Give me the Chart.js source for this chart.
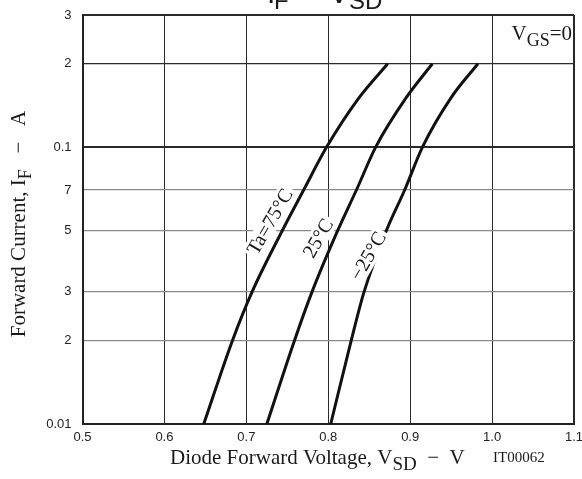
<!DOCTYPE html>
<html><head><meta charset="utf-8">
<script src="https://cdn.jsdelivr.net/npm/chart.js@4.4.1/dist/chart.umd.min.js"></script>
<style>html,body{margin:0;padding:0;background:#fff}#wrap{width:582px;height:479px;position:relative}canvas{display:block}</style>
</head><body><div id="wrap"><canvas id="c" width="582" height="479" style="width:582px;height:479px"></canvas></div>
<script>
// ---- data ----
const xTicks = [0.5, 0.6, 0.7, 0.8, 0.9, 1.0, 1.1];
const yTicks = [0.01, 0.02, 0.03, 0.05, 0.07, 0.1, 0.2, 0.3];
const yTickLabels = ['0.01', '2', '3', '5', '7', '0.1', '2', '3'];
const currentIF = [0.01, 0.02, 0.03, 0.05, 0.07, 0.1, 0.15, 0.2];
const vsdTa75 = [0.648, 0.683, 0.707, 0.744, 0.770, 0.798, 0.837, 0.8726];
const vsdTa25 = [0.725, 0.7587, 0.7802, 0.8116, 0.8344, 0.8579, 0.8945, 0.9271];
const vsdTaM25 = [0.803, 0.828, 0.8437, 0.871, 0.8933, 0.915, 0.9494, 0.9827];
const curveLabels = ['Ta=75°C', '25°C', '\u221225°C'];
const labelAnchorsX = [0.7287, 0.7876, 0.8485];
const labelAnchorsY = [0.0538, 0.0469, 0.0404];

const SERIF = '"Liberation Serif", "Times New Roman", serif';
const SANS = '"Liberation Sans", Arial, sans-serif';

function pts(xs, ys) { return xs.map((x, i) => ({ x: x, y: ys[i] })); }

function richWidth(ctx, parts, size, subScale) {
  let w = 0;
  for (const p of parts) {
    ctx.font = (p.sub ? Math.round(size * subScale) : size) + 'px ' + (p.font || SERIF);
    w += ctx.measureText(p.t).width;
  }
  return w;
}
function drawRich(ctx, parts, x, y, size, align, subScale, subDrop) {
  subScale = subScale || 0.82;
  subDrop = subDrop == null ? 0.3 : subDrop;
  const w = richWidth(ctx, parts, size, subScale);
  let cx = align === 'center' ? x - w / 2 : (align === 'right' ? x - w : x);
  ctx.textBaseline = 'alphabetic';
  ctx.textAlign = 'left';
  for (const p of parts) {
    const s = p.sub ? Math.round(size * subScale) : size;
    ctx.font = s + 'px ' + (p.font || SERIF);
    ctx.fillText(p.t, cx, y + (p.sub ? size * subDrop : 0));
    cx += ctx.measureText(p.t).width;
  }
}

const textPlugin = {
  id: 'texts',
  afterDatasetsDraw(chart) {
    const ctx = chart.ctx;
    const xs = chart.scales.x, ys = chart.scales.y;
    ctx.save();
    ctx.fillStyle = '#1a1a1a';
    curveLabels.forEach((t, i) => {
      const px = xs.getPixelForValue(labelAnchorsX[i]);
      const py = ys.getPixelForValue(labelAnchorsY[i]);
      ctx.save();
      ctx.translate(px, py);
      ctx.rotate(-60 * Math.PI / 180);
      ctx.font = '20px ' + SERIF;
      const w = ctx.measureText(t).width;
      ctx.fillStyle = '#fff';
      ctx.fillRect(-w / 2 - 3, -10, w + 6, 20);
      ctx.fillStyle = '#1a1a1a';
      ctx.textAlign = 'center';
      ctx.textBaseline = 'middle';
      ctx.fillText(t, 0, 1);
      ctx.restore();
    });
    drawRich(ctx, [{ t: 'V' }, { t: 'GS', sub: true }, { t: '=0' }], 572, 40, 21, 'right', 0.88, 0.28);
    ctx.restore();
  },
  afterDraw(chart) {
    const ctx = chart.ctx;
    ctx.save();
    ctx.fillStyle = '#1a1a1a';
    drawRich(ctx, [{ t: 'Diode Forward Voltage, V' }, { t: 'SD', sub: true }, { t: '  \u2212  V' }], 170, 464, 21, 'left', 0.9, 0.28);
    ctx.font = '15px ' + SERIF;
    ctx.textAlign = 'left';
    ctx.fillText('IT00062', 493, 462);
    ctx.save();
    ctx.translate(25, 224);
    ctx.rotate(-Math.PI / 2);
    drawRich(ctx, [{ t: 'Forward Current, I' }, { t: 'F', sub: true }, { t: '   \u2212   A' }], 0, 0, 21, 'center', 0.85, 0.3);
    ctx.restore();
    ctx.font = '30px ' + SANS;
    ctx.fillText('I', 267, 3);
    ctx.font = '24px ' + SANS;
    ctx.fillText('F', 274, 9);
    ctx.font = '30px ' + SANS;
    ctx.fillText('\u2212', 298, 3);
    ctx.fillText('V', 329, 3);
    ctx.font = '24px ' + SANS;
    ctx.fillText('SD', 349, 9);
    ctx.restore();
  }
};

const lineStyle = { borderColor: '#111', borderWidth: 3, pointRadius: 0, showLine: true, fill: false, cubicInterpolationMode: 'monotone' };

new Chart(document.getElementById('c'), {
  type: 'scatter',
  data: {
    datasets: [
      Object.assign({ label: curveLabels[0], data: pts(vsdTa75, currentIF) }, lineStyle),
      Object.assign({ label: curveLabels[1], data: pts(vsdTa25, currentIF) }, lineStyle),
      Object.assign({ label: curveLabels[2], data: pts(vsdTaM25, currentIF) }, lineStyle)
    ]
  },
  options: {
    responsive: false,
    maintainAspectRatio: false,
    animation: false,
    devicePixelRatio: 1,
    layout: { padding: { top: 15, right: 8, left: 0, bottom: 0 } },
    plugins: { legend: { display: false }, tooltip: { enabled: false }, title: { display: false } },
    scales: {
      x: {
        type: 'linear', min: 0.5, max: 1.1,
        afterBuildTicks(s) { s.ticks = xTicks.map(v => ({ value: v })); },
        afterFit(s) { s.height = 55; s.paddingLeft = 0; s.paddingRight = 0; },
        ticks: { padding: 6, color: '#222', font: { family: SANS, size: 13 }, callback: v => v.toFixed(1), maxRotation: 0, autoSkip: false },
        grid: {
          drawTicks: false,
          color: '#2a2a2a',
          lineWidth: ctx => (ctx.tick && ctx.tick.value >= 1.099) ? 2 : 1
        },
        border: { display: true, color: '#222', width: 2 }
      },
      y: {
        type: 'logarithmic', min: 0.01, max: 0.3,
        afterBuildTicks(s) { s.ticks = yTicks.map(v => ({ value: v })); },
        afterFit(s) { s.width = 82.5; s.paddingTop = 0; s.paddingBottom = 0; },
        ticks: {
          padding: 11, color: '#222', font: { family: SANS, size: 13 }, autoSkip: false,
          callback: (v, i) => yTickLabels[i]
        },
        grid: {
          drawTicks: false,
          color: ctx => {
            const v = ctx.tick ? ctx.tick.value : 0;
            return (Math.abs(v - 0.1) < 1e-9 || Math.abs(v - 0.2) < 1e-9 || v >= 0.299) ? '#2a2a2a' : '#8a8a8a';
          },
          lineWidth: ctx => (ctx.tick && (ctx.tick.value >= 0.299 || Math.abs(ctx.tick.value - 0.1) < 1e-9)) ? 2 : 1.3
        },
        border: { display: true, color: '#222', width: 2 }
      }
    }
  },
  plugins: [textPlugin]
});
</script>
</body></html>
